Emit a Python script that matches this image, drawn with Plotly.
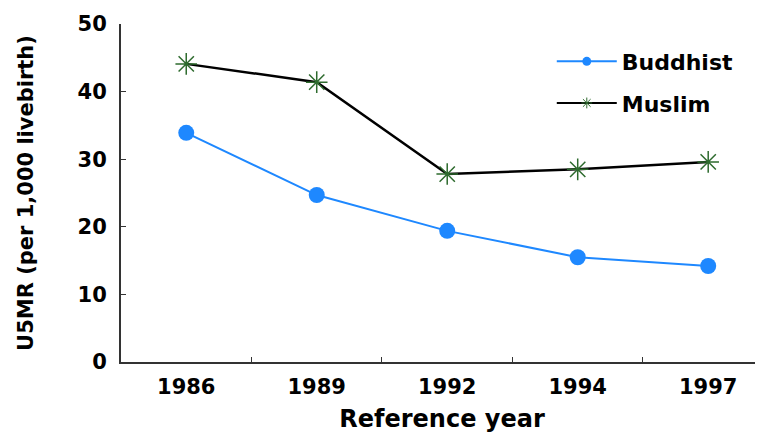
import plotly.graph_objects as go

years = ["1986", "1989", "1992", "1994", "1997"]
buddhist = [33.9, 24.7, 19.4, 15.5, 14.2]
muslim = [44.1, 41.4, 27.8, 28.5, 29.6]
y_ticks = [0, 10, 20, 30, 40, 50]

BLUE = "#1E88FF"
GREEN = "#2E6B2E"
FONT = "DejaVu Sans, Liberation Sans, Arial, sans-serif"

fig = go.Figure()
fig.add_trace(go.Scatter(
    x=years, y=buddhist, name="Buddhist", mode="lines+markers", showlegend=False,
    line=dict(color=BLUE, width=2),
    marker=dict(symbol="circle", size=16, color=BLUE),
))
fig.add_trace(go.Scatter(
    x=years, y=muslim, name="Muslim", mode="lines+markers", showlegend=False,
    line=dict(color="black", width=2.5),
    marker=dict(symbol="asterisk-open", size=18, color=GREEN,
                line=dict(color=GREEN, width=1.5)),
))
# legend entries (small markers as in the reference)
fig.add_trace(go.Scatter(
    x=[None], y=[None], name="Buddhist", mode="lines+markers", legendgroup="b",
    line=dict(color=BLUE, width=2),
    marker=dict(symbol="circle", size=9, color=BLUE),
))
fig.add_trace(go.Scatter(
    x=[None], y=[None], name="Muslim", mode="lines+markers", legendgroup="m",
    line=dict(color="black", width=2),
    marker=dict(symbol="asterisk-open", size=9, color=GREEN,
                line=dict(color=GREEN, width=1)),
))

fig.update_layout(
    width=755, height=425,
    margin=dict(l=113, r=0, t=16, b=71),
    paper_bgcolor="white", plot_bgcolor="white",
    font=dict(family=FONT, color="black", size=16, weight="bold"),
    legend=dict(x=0.671, y=0.951, xanchor="left", yanchor="top",
                font=dict(size=22, weight="bold"), bgcolor="rgba(0,0,0,0)",
                tracegroupgap=10, traceorder="grouped", itemwidth=60),
    showlegend=True,
)
fig.update_xaxes(
    type="category", range=[-0.5, 4.42],
    showline=True, linecolor="#333", linewidth=2,
    ticks="inside", tickson="boundaries", ticklen=5, tickcolor="#333",
    showgrid=False, zeroline=False, ticklabelstandoff=5,
    tickfont=dict(size=21, weight="bold"),
    title=dict(text="Reference year", font=dict(size=24, weight="bold"), standoff=12),
)
fig.update_yaxes(
    range=[0, 50], tickvals=y_ticks,
    showline=True, linecolor="#333", linewidth=2,
    ticks="inside", ticklen=5, tickcolor="#333",
    showgrid=False, zeroline=False, ticklabelstandoff=8,
    tickfont=dict(size=21, weight="bold"),
    title=dict(text="U5MR (per 1,000 livebirth)", font=dict(size=21, weight="bold"), standoff=38),
)
fig.write_html("out.html")
